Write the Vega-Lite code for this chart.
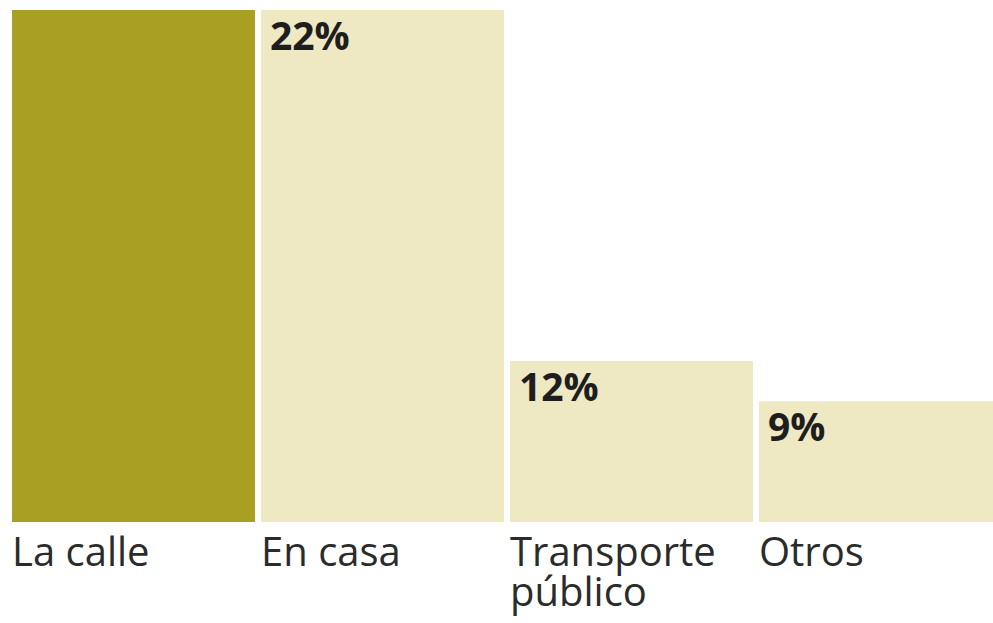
{
  "$schema": "https://vega.github.io/schema/vega-lite/v6.json",
  "width": 981,
  "height": 512,
  "autosize": "none",
  "padding": {"left": 12, "top": 10, "right": 0, "bottom": 101},
  "background": "#ffffff",
  "config": {"view": {"stroke": null}},
  "data": {
    "values": [
      {"lugar": "La calle", "valor": 0.57},
      {"lugar": "En casa", "valor": 0.22},
      {"lugar": "Transporte público", "valor": 0.12},
      {"lugar": "Otros", "valor": 0.09}
    ]
  },
  "encoding": {
    "x": {
      "field": "lugar",
      "type": "nominal",
      "sort": null,
      "scale": {"range": [0, 990], "paddingInner": 0.024, "paddingOuter": 0},
      "axis": {
        "title": null,
        "domain": false,
        "ticks": false,
        "grid": false,
        "labelAngle": 0,
        "labelAlign": "left",
        "labelBaseline": "top",
        "labelOffset": -121.5,
        "labelPadding": 11,
        "labelFont": "Open Sans",
        "labelFontSize": 40,
        "labelColor": "#2b2b2b",
        "labelLineHeight": 40,
        "labelLimit": 0,
        "labelOverlap": false,
        "labelBound": false,
        "labelExpr": "datum.value == 'Transporte público' ? ['Transporte', 'público'] : datum.value"
      }
    },
    "y": {
      "field": "valor",
      "type": "quantitative",
      "scale": {"domain": [0, 0.12, 0.22], "range": [512, 351, 0], "clamp": true, "nice": false, "zero": false},
      "axis": null
    }
  },
  "layer": [
    {
      "mark": {"type": "bar", "clip": true},
      "encoding": {
        "color": {
          "condition": {"test": "datum.lugar == 'La calle'", "value": "#a89f23"},
          "value": "#eee8c3"
        }
      }
    },
    {
      "transform": [{"filter": "datum.lugar != 'La calle'"}],
      "mark": {
        "type": "text",
        "align": "left",
        "baseline": "top",
        "dx": 9,
        "dy": 9,
        "font": "Open Sans",
        "fontWeight": "bold",
        "fontSize": 39,
        "color": "#1e1e1e"
      },
      "encoding": {
        "x": {"field": "lugar", "type": "nominal", "sort": null, "bandPosition": 0},
        "text": {"field": "valor", "type": "quantitative", "format": ".0%"}
      }
    }
  ]
}
